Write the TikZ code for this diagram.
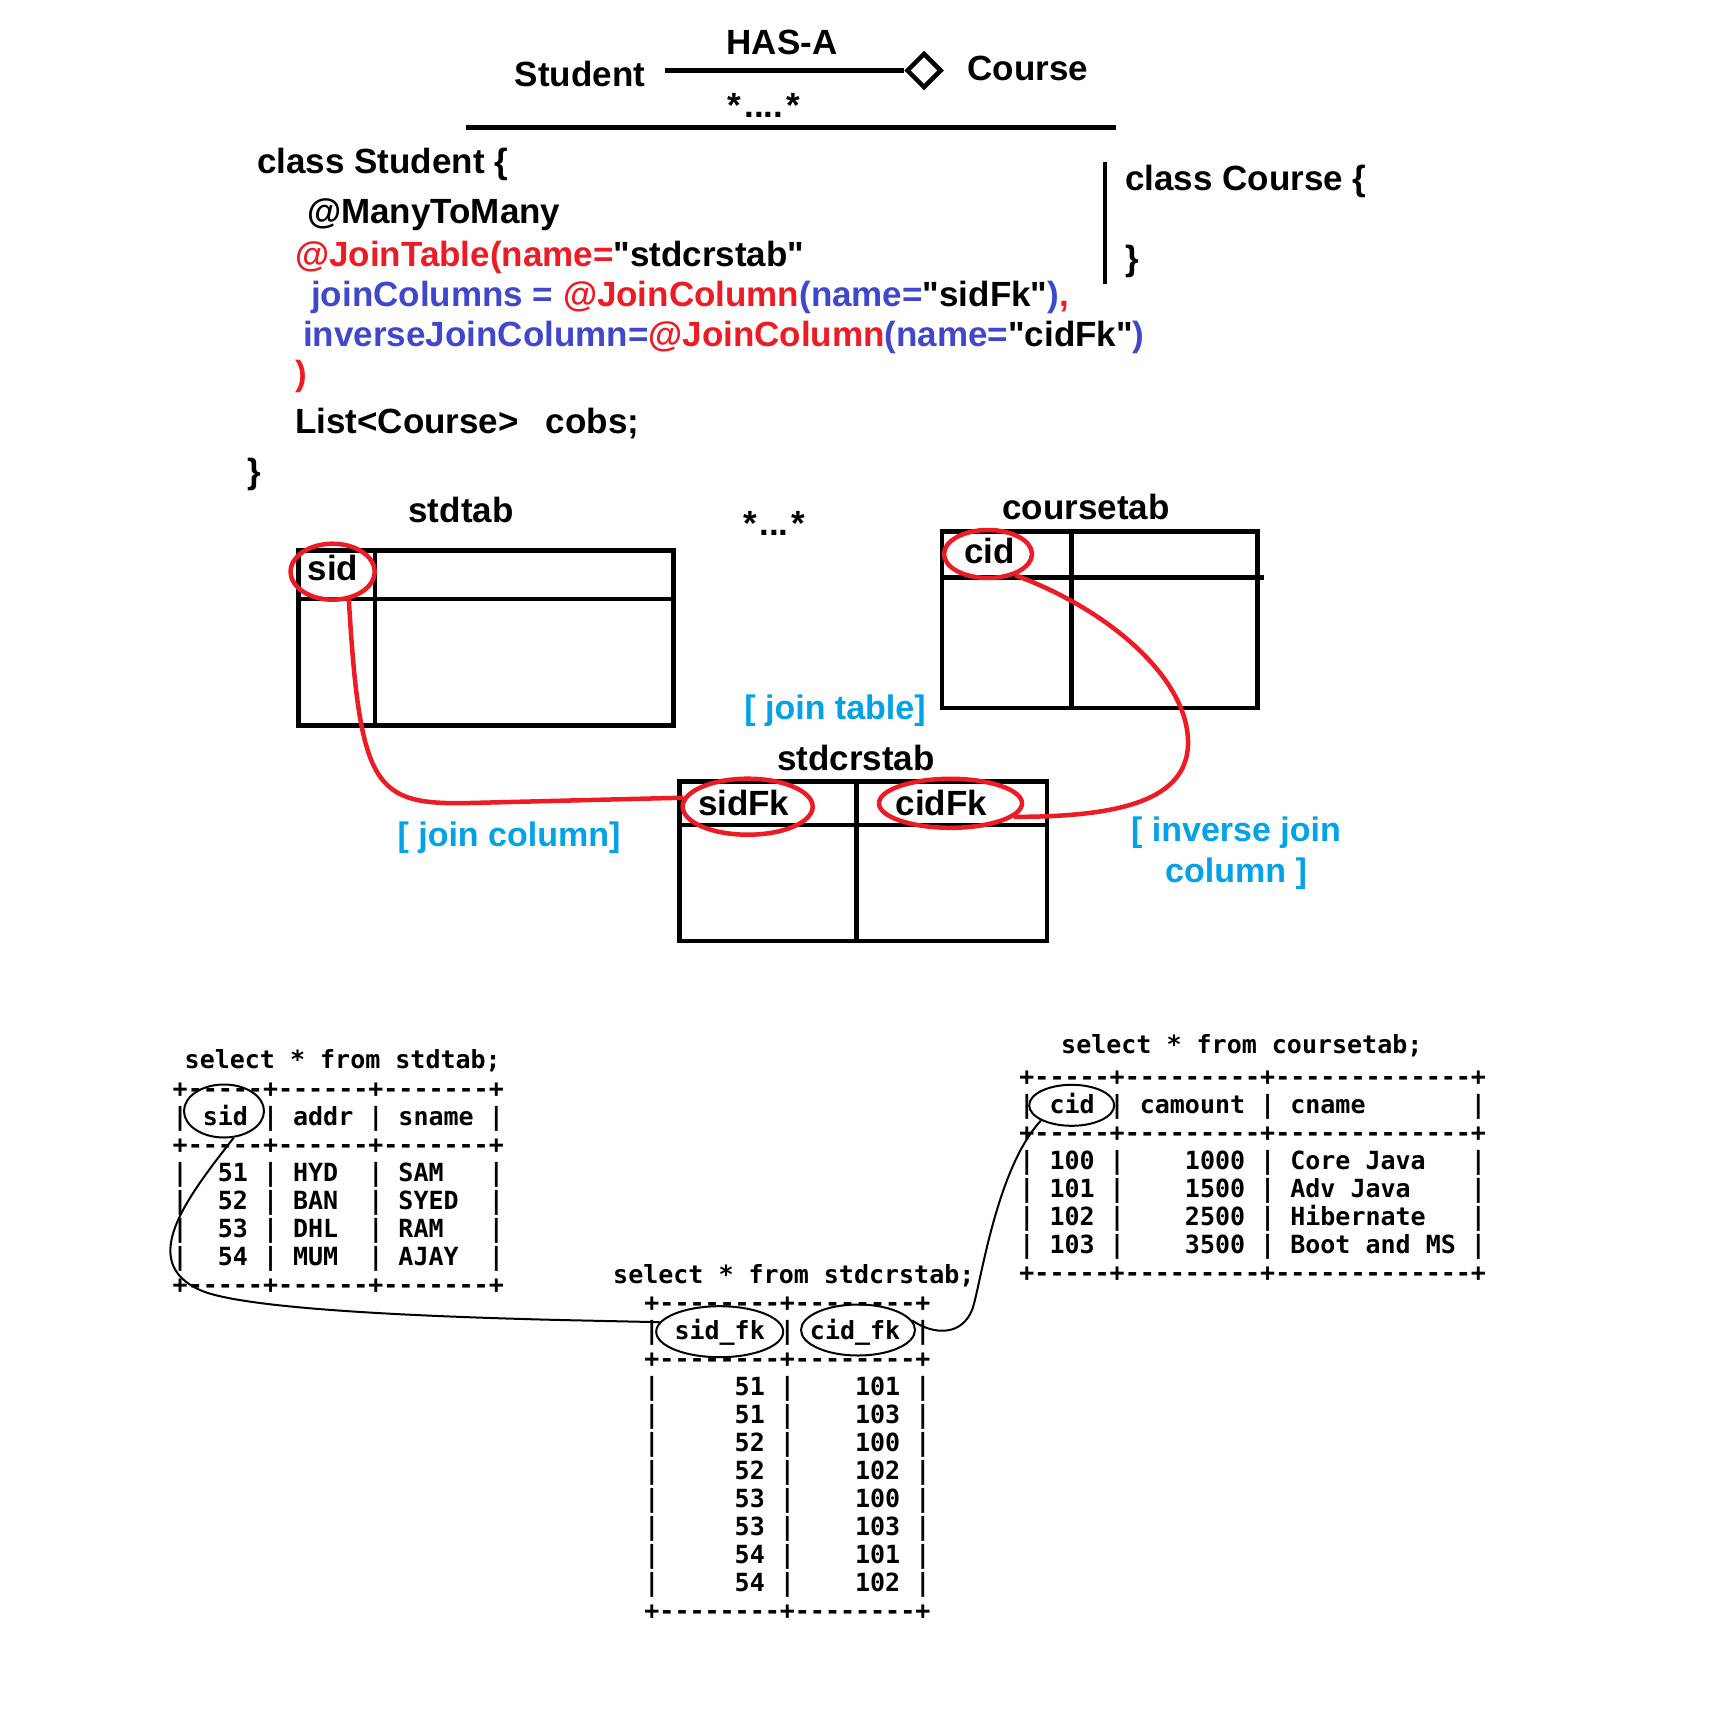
\documentclass[tikz,border=0pt]{standalone}
\usepackage{fontspec}
\setmainfont[Ligatures=TeXOff]{Liberation Sans}
\newfontfamily\sqlfont[Ligatures=TeXOff]{DejaVu Sans Mono}
\usetikzlibrary{shapes.geometric}

\definecolor{annred}{RGB}{237,28,36}
\definecolor{annblue}{RGB}{63,72,204}
\definecolor{notecyan}{RGB}{0,162,232}

\tikzset{
  codeline/.style={font=\bfseries\fontsize{35}{42}\selectfont, inner sep=0pt, anchor=base west},
  tabtitle/.style={font=\bfseries\fontsize{35}{42}\selectfont, inner sep=0pt, anchor=base},
  note/.style={font=\bfseries\fontsize{34}{41}\selectfont, text=notecyan, inner sep=0pt, align=center},
  redring/.style={ellipse, draw=annred, line width=4.5pt, inner sep=0pt},
  blackring/.style={ellipse, draw, line width=2pt, inner sep=0pt},
  redlink/.style={draw=annred, line width=4.5pt},
  blacklink/.style={line width=2pt},
  tablebox/.style={line width=4.5pt},
  sqlrow/.style={font=\sqlfont\bfseries\fontsize{25}{28}\selectfont, inner sep=0pt, anchor=base west}
}

\begin{document}
\begin{tikzpicture}[x=1pt, y=-1pt]
  \useasboundingbox (0,0) rectangle (1728,1732);

  % association Student <>-- Course
  \node[tabtitle, inner xsep=20pt] (student) at (580,86) {Student};
  \node[diamond, draw, line width=4.5pt, minimum width=35pt, minimum height=35pt, inner sep=0pt] (hasdiamond) at (924,70.5) {};
  \node[tabtitle] (course) at (1028,80) {Course};
  \node[tabtitle] (hasa) at (782,54) {HAS-A};
  \node[tabtitle] (manymany) at (764,117) {*\kern3pt....\kern3pt*};
  \draw[line width=4.5pt] (student.east |- hasdiamond.west) -- (hasdiamond.west);
  \draw[line width=5pt] (466,127.5) -- (1116,127.5);

  % entity classes
  \node[codeline] (stdclass) at (257,173) {class Student \{};
  \node[codeline] (m2m) at (307,223) {@ManyToMany};
  \node[codeline] (jointab) at (295,266.7) {\textcolor{annred}{@JoinTable(name=}"stdcrstab"};
  \node[codeline] (joincols) at (311,306) {\textcolor{annblue}{joinColumns = }\textcolor{annred}{@JoinColumn}\textcolor{annblue}{(name=}"sidFk"\textcolor{annblue}{)}\textcolor{annred}{,}};
  \node[codeline] (invcols) at (303,346.7) {\textcolor{annblue}{inverseJoinColumn=}\textcolor{annred}{@JoinColumn}\textcolor{annblue}{(name=}"cidFk"\textcolor{annblue}{)}};
  \node[codeline, text=annred] (jointabend) at (295,385.7) {)};
  \node[codeline] (cobs) at (295,433) {List<Course>\hspace{27pt}cobs;};
  \node[codeline] (stdclassend) at (247,483) {\}};
  \draw[line width=4.5pt] (1105,162) -- (1105,284);
  \node[codeline] (crsclass) at (1125,190) {class Course \{};
  \node[codeline] (crsclassend) at (1125,270) {\}};

  % table sketches
  \node[tabtitle] (stdtitle) at (461,522.7) {stdtab};
  \node[tabtitle] (crstitle) at (1086,519) {coursetab};
  \node[tabtitle] (linktitle) at (856,770.7) {stdcrstab};
  \node[tabtitle] (tabmany) at (774,535) {*\kern2.5pt...\kern2.5pt*};
  \draw[tablebox] (298.3,550.3) rectangle (673.7,725.7);
  \draw[tablebox] (298.3,599) -- (673.7,599) (375,550.3) -- (375,725.7);
  \draw[tablebox] (942,531.5) rectangle (1257.4,707.8);
  \draw[tablebox] (942,577.3) -- (1264,577.3) (1071.6,531.5) -- (1071.6,707.8);
  \draw[tablebox] (679.7,781.5) rectangle (1047,941);
  \draw[tablebox] (679.7,825) -- (1047,825) (856.6,781.5) -- (856.6,941);

  \node[tabtitle] (sidhead) at (333,580) {sid};
  \node[tabtitle] (cidhead) at (989.5,563.3) {cid};
  \node[tabtitle] (sidfkhead) at (743.7,815) {sidFk};
  \node[tabtitle] (cidfkhead) at (941.4,815) {cidFk};
  \node[redring, minimum width=84pt, minimum height=56pt] (sidring) at (332.6,571.7) {};
  \node[redring, minimum width=88pt, minimum height=48pt] (cidring) at (988,554) {};
  \node[redring, minimum width=130pt, minimum height=56pt] (sidfkring) at (747.7,806.7) {};
  \node[redring, minimum width=143pt, minimum height=49pt] (cidfkring) at (950.5,803.3) {};

  \draw[redlink] (sidring.-60) .. controls (360,790) and (375,805) .. (470,803) -- (sidfkring.172);
  \draw[redlink] (cidring.-38) .. controls (1110,610) and (1190,680) .. (1188,745)
    .. controls (1186,800) and (1120,817) .. (cidfkring.-12);

  \node[note, anchor=base] (jointabnote) at (835,719.5) {[ join table]};
  \node[note, anchor=base] (joincolnote) at (509,846) {[ join column]};
  \node[note, anchor=north] (invcolnote) at (1236,816.3) {[ inverse join\\column ]};

  % query output
  \node[sqlrow] (stdquery) at (184.5,1068) {select * from stdtab;};
  \foreach \row [count=\i from 0] in {
    {+-----+------+-------+},
    {|~sid~|~addr~|~sname~|},
    {+-----+------+-------+},
    {|~~51~|~HYD~~|~SAM~~~|},
    {|~~52~|~BAN~~|~SYED~~|},
    {|~~53~|~DHL~~|~RAM~~~|},
    {|~~54~|~MUM~~|~AJAY~~|},
    {+-----+------+-------+}}
    \node[sqlrow] (stdrow\i) at (172.5,{1097+28*\i}) {\row};

  \node[sqlrow] (crsquery) at (1061,1053.3) {select * from coursetab;};
  \foreach \row [count=\i from 0] in {
    {+-----+---------+-------------+},
    {|~cid~|~camount~|~cname~~~~~~~|},
    {+-----+---------+-------------+},
    {|~100~|~~~~1000~|~Core~Java~~~|},
    {|~101~|~~~~1500~|~Adv~Java~~~~|},
    {|~102~|~~~~2500~|~Hibernate~~~|},
    {|~103~|~~~~3500~|~Boot~and~MS~|},
    {+-----+---------+-------------+}}
    \node[sqlrow] (crsrow\i) at (1019.2,{1085+28*\i}) {\row};

  \node[sqlrow] (linkquery) at (613,1283.3) {select * from stdcrstab;};
  \foreach \row [count=\i from 0] in {
    {+--------+--------+},
    {|~sid\_fk~|~cid\_fk~|},
    {+--------+--------+},
    {|~~~~~51~|~~~~101~|},
    {|~~~~~51~|~~~~103~|},
    {|~~~~~52~|~~~~100~|},
    {|~~~~~52~|~~~~102~|},
    {|~~~~~53~|~~~~100~|},
    {|~~~~~53~|~~~~103~|},
    {|~~~~~54~|~~~~101~|},
    {|~~~~~54~|~~~~102~|},
    {+--------+--------+}}
    \node[sqlrow] (linkrow\i) at (644.2,{1311.7+28*\i}) {\row};

  \node[blackring, minimum width=80pt, minimum height=53pt] (sidoval) at (224,1111) {};
  \node[blackring, minimum width=85pt, minimum height=41pt] (cidoval) at (1071.7,1105.3) {};
  \node[blackring, minimum width=127pt, minimum height=51pt] (sidfkoval) at (719.7,1331.7) {};
  \node[blackring, minimum width=114pt, minimum height=51pt] (cidfkoval) at (858,1330) {};

  \draw[blacklink] (sidoval.-70) .. controls (185,1200) and (138,1262) .. (200,1290)
    .. controls (240,1308) and (400,1316) .. (560,1320) -- (sidfkoval.171);
  \draw[blacklink] (cidfkoval.10) .. controls (935,1336) and (962,1335) .. (972,1310)
    .. controls (980,1290) and (995,1170) .. (cidoval.south west);
\end{tikzpicture}
\end{document}
